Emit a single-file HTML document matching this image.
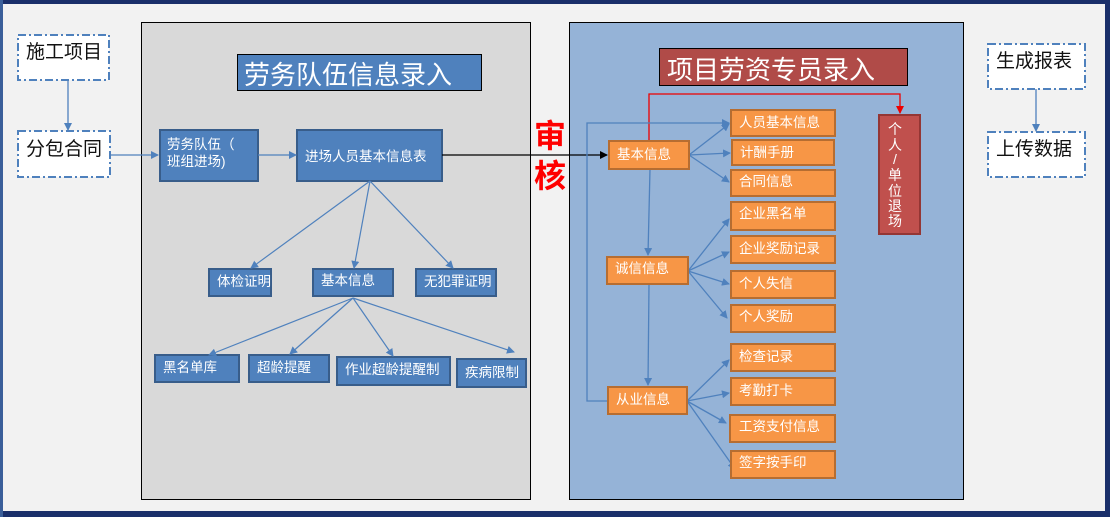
<!DOCTYPE html>
<html><head><meta charset="utf-8"><style>
html,body{margin:0;padding:0;width:1110px;height:517px;overflow:hidden;background:#f2f2f2}
svg text{font-family:"Liberation Sans","Noto Sans CJK SC",sans-serif}
</style></head><body>
<svg width="1110" height="517" viewBox="0 0 1110 517" xmlns="http://www.w3.org/2000/svg">
<defs>
<marker id="ab" markerWidth="8" markerHeight="8" refX="7" refY="4" orient="auto" markerUnits="userSpaceOnUse"><path d="M0,0 L8,4 L0,8 z" fill="#4f81bd"/></marker>
<marker id="ak" markerWidth="8" markerHeight="8" refX="7" refY="4" orient="auto" markerUnits="userSpaceOnUse"><path d="M0,0 L8,4 L0,8 z" fill="#000"/></marker>
<marker id="ar" markerWidth="8" markerHeight="8" refX="7" refY="4" orient="auto" markerUnits="userSpaceOnUse"><path d="M0,0 L8,4 L0,8 z" fill="#e00"/></marker>
</defs>
<rect x="0" y="0" width="1110" height="517" fill="#f2f2f2"/>
<rect x="0" y="0" width="1110" height="4" fill="#1a2f6a"/>
<rect x="0" y="511" width="1110" height="6" fill="#1a2f6a"/>
<rect x="1105" y="0" width="5" height="517" fill="#1a2f6a"/>
<rect x="0" y="0" width="3" height="517" fill="#3b5f9a"/>

<!-- left dashed boxes -->
<g fill="#fff" stroke="#4f81bd" stroke-width="2" stroke-dasharray="8,3,2,3">
<rect x="18" y="35" width="91" height="45"/><rect x="18" y="131" width="92" height="46"/>
<rect x="988" y="44" width="97" height="45"/><rect x="988" y="132" width="97" height="45"/>
</g>
<g font-size="19" fill="#111">
<text x="26" y="58">施工项目</text><text x="26" y="155">分包合同</text>
<text x="996" y="67">生成报表</text><text x="996" y="155">上传数据</text>
</g>
<line x1="68" y1="80" x2="68" y2="130" stroke="#4f81bd" stroke-width="1.3" marker-end="url(#ab)"/>
<line x1="1036" y1="89" x2="1036" y2="131" stroke="#4f81bd" stroke-width="1.3" marker-end="url(#ab)"/>

<!-- left panel -->
<rect x="141.5" y="22.5" width="389" height="477" fill="#d9d9d9" stroke="#000"/>
<line x1="110" y1="155" x2="158" y2="155" stroke="#4f81bd" stroke-width="1.3" marker-end="url(#ab)"/>
<rect x="237.5" y="54.5" width="244" height="36" fill="#4f81bd" stroke="#000"/>
<text x="244" y="84" font-size="26" fill="#fff">劳务队伍信息录入</text>
<g fill="#4f81bd" stroke="#385d8a" stroke-width="2">
<rect x="160" y="130" width="98" height="51"/><rect x="297" y="130" width="145" height="51"/>
<rect x="209" y="269" width="62" height="27"/><rect x="313" y="269" width="80" height="27"/><rect x="416" y="269" width="80" height="27"/>
<rect x="155" y="355" width="84" height="27"/><rect x="249" y="355" width="80" height="27"/><rect x="337" y="357" width="113" height="28"/><rect x="457" y="359" width="69" height="28"/>
</g>
<g font-size="13.5" fill="#fff">
<text x="167" y="149">劳务队伍（</text><text x="167" y="166">班组进场)</text>
<text x="305" y="161">进场人员基本信息表</text>
<text x="217" y="286">体检证明</text><text x="321" y="285">基本信息</text><text x="424" y="286">无犯罪证明</text>
<text x="163" y="372">黑名单库</text><text x="257" y="372">超龄提醒</text><text x="345" y="374">作业超龄提醒制</text><text x="465" y="377">疾病限制</text>
</g>
<line x1="258" y1="155" x2="296" y2="155" stroke="#4f81bd" stroke-width="1.3" marker-end="url(#ab)"/>
<g stroke="#4f81bd" stroke-width="1.2" fill="none" marker-end="url(#ab)">
<line x1="370" y1="181" x2="251" y2="268"/><line x1="370" y1="181" x2="354" y2="268"/><line x1="370" y1="181" x2="453" y2="268"/>
<line x1="353" y1="298" x2="209" y2="355"/><line x1="353" y1="298" x2="290" y2="354"/><line x1="353" y1="298" x2="393" y2="356"/><line x1="353" y1="298" x2="514" y2="352"/>
</g>

<!-- right panel -->
<rect x="569.5" y="22.5" width="394" height="477" fill="#95b3d7" stroke="#000"/>
<line x1="442" y1="155" x2="607" y2="155" stroke="#000" stroke-width="1.2" marker-end="url(#ak)"/>

<!-- 审核 -->
<text x="534" y="147" font-size="32" font-weight="bold" fill="#f00">审</text>
<text x="534" y="187" font-size="32" font-weight="bold" fill="#f00">核</text>

<rect x="659.5" y="48.5" width="248" height="37" fill="#b04b48" stroke="#000"/>
<text x="667" y="79" font-size="26" fill="#fff">项目劳资专员录入</text>
<polyline points="649,140 649,94 900,94 900,113" fill="none" stroke="#e00" stroke-width="1.3" marker-end="url(#ar)"/>
<rect x="879" y="115" width="41" height="119" fill="#c0504d" stroke="#943634" stroke-width="2"/>
<g font-size="14" fill="#fff" text-anchor="middle">
<text x="895" y="134">个</text><text x="895" y="150">人</text><text x="895" y="164">/</text><text x="895" y="180">单</text><text x="895" y="196">位</text><text x="895" y="211">退</text><text x="895" y="226">场</text>
</g>
<g stroke="#4f81bd" stroke-width="1.3" fill="none" marker-end="url(#ab)">
<polyline points="607,401 587,401 587,123 729,123"/>
<line x1="650" y1="169" x2="648" y2="255"/><line x1="649" y1="285" x2="648" y2="385"/>
<line x1="689" y1="155" x2="729" y2="124"/><line x1="689" y1="155" x2="730" y2="153"/><line x1="689" y1="155" x2="729" y2="182"/>
<line x1="688" y1="271" x2="729" y2="219"/><line x1="688" y1="271" x2="729" y2="252"/><line x1="688" y1="271" x2="729" y2="284"/><line x1="688" y1="271" x2="727" y2="318"/>
<line x1="687" y1="401" x2="729" y2="360"/><line x1="687" y1="401" x2="729" y2="393"/><line x1="687" y1="401" x2="726" y2="423"/><line x1="687" y1="401" x2="735" y2="469"/>
</g>
<g fill="#f79646" stroke="#b66d31" stroke-width="2">
<rect x="609" y="141" width="80" height="28"/><rect x="607" y="257" width="81" height="27"/><rect x="608" y="387" width="79" height="27"/>
<rect x="731" y="110" width="104" height="26"/><rect x="732" y="140" width="102" height="25"/><rect x="731" y="170" width="104" height="26"/>
<rect x="731" y="202" width="104" height="28"/><rect x="731" y="236" width="104" height="27"/><rect x="731" y="271" width="104" height="27"/><rect x="731" y="305" width="104" height="27"/>
<rect x="731" y="344" width="104" height="27"/><rect x="731" y="378" width="104" height="27"/><rect x="730" y="415" width="105" height="27"/><rect x="731" y="451" width="104" height="27"/>
</g>
<g font-size="13.5" fill="#fff">
<text x="617" y="159">基本信息</text><text x="615" y="273">诚信信息</text><text x="616" y="404">从业信息</text>
<text x="739" y="127">人员基本信息</text><text x="740" y="157">计酬手册</text><text x="739" y="186">合同信息</text>
<text x="739" y="218">企业黑名单</text><text x="739" y="253">企业奖励记录</text><text x="739" y="288">个人失信</text><text x="739" y="321">个人奖励</text>
<text x="739" y="361">检查记录</text><text x="739" y="395">考勤打卡</text><text x="739" y="431">工资支付信息</text><text x="739" y="467">签字按手印</text>
</g>
</svg>
</body></html>
